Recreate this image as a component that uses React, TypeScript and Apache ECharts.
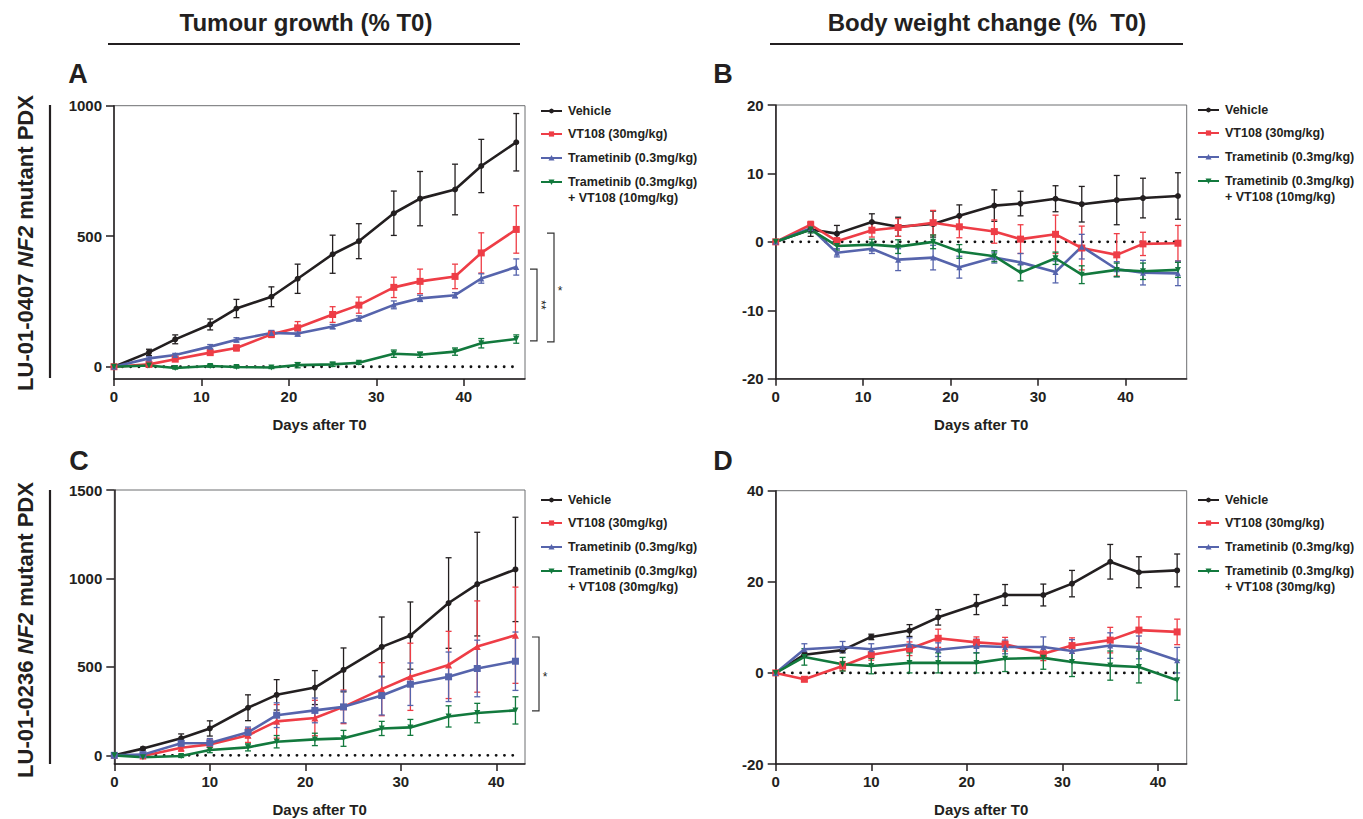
import React, { useEffect, useRef } from "react";
import * as echarts from "echarts";

const FONT = '"Liberation Sans", Arial, Helvetica, sans-serif';
const INK = "#231f20";
const C_VEH = "#231f20";
const C_VT = "#ee3d46";
const C_TRA = "#5664ac";
const C_CMB = "#12793d";

const NAME_VEH = "Vehicle";
const NAME_VT = "VT108 (30mg/kg)";
const NAME_TRA = "Trametinib (0.3mg/kg)";
const NAME_CMB10 = ["Trametinib (0.3mg/kg)", "+ VT108 (10mg/kg)"];
const NAME_CMB30 = ["Trametinib (0.3mg/kg)", "+ VT108 (30mg/kg)"];

// Days
const daysAB = [0, 4, 7, 11, 14, 18, 21, 25, 28, 32, 35, 39, 42, 46];
const daysCD = [0, 3, 7, 10, 14, 17, 21, 24, 28, 31, 35, 38, 42];
const xTicksAB = [0, 10, 20, 30, 40];
const xTicksCD = [0, 10, 20, 30, 40];

// Panel A: tumour growth LU-01-0407
const aVeh = [0, 55, 105, 162, 223, 268, 337, 431, 481, 588, 644, 679, 769, 860];
const aVehErr = [0, 12, 17, 21, 35, 38, 56, 73, 67, 85, 104, 97, 102, 110];
const aVt = [0, 9, 29, 54, 72, 124, 149, 200, 236, 304, 327, 346, 436, 526];
const aVtErr = [0, 5, 6, 9, 11, 12, 24, 30, 31, 39, 47, 47, 77, 91];
const aTra = [0, 32, 45, 77, 103, 129, 127, 154, 185, 237, 262, 274, 338, 382];
const aTraErr = [0, 6, 6, 8, 8, 10, 10, 8, 10, 15, 12, 10, 18, 31];
const aCmb = [0, 5, -5, 3, -1, -3, 6, 9, 15, 50, 46, 58, 90, 106];
const aCmbErr = [0, 4, 4, 5, 4, 4, 10, 8, 6, 14, 10, 14, 18, 16];
const aYTicks = [0, 500, 1000];

// Panel B: body weight LU-01-0407
const bVeh = [0, 1.8, 1.2, 2.9, 2.2, 2.6, 3.8, 5.3, 5.6, 6.3, 5.5, 6.1, 6.4, 6.7];
const bVehErr = [0, 1.0, 1.2, 1.2, 1.4, 1.9, 1.6, 2.3, 1.8, 1.9, 2.6, 3.6, 2.9, 3.4];
const bVt = [0, 2.5, 0.1, 1.7, 2.1, 2.8, 2.2, 1.5, 0.4, 1.1, -0.9, -1.9, -0.3, -0.2];
const bVtErr = [0, 0.5, 0.5, 1.0, 1.3, 1.8, 1.6, 1.7, 2.1, 2.8, 3.2, 3.1, 1.7, 2.6];
const bTra = [0, 2.0, -1.6, -1.0, -2.6, -2.3, -3.7, -2.3, -3.0, -4.4, -0.7, -4.0, -4.5, -4.6];
const bTraErr = [0, 0.5, 0.6, 0.7, 1.6, 1.8, 1.6, 0.8, 1.3, 1.6, 1.8, 1.1, 1.8, 1.8];
const bCmb = [0, 1.8, -0.6, -0.4, -0.7, 0, -1.4, -2.1, -4.5, -2.4, -4.8, -4.1, -4.3, -4.1];
const bCmbErr = [0, 0.5, 0.6, 0.8, 1.0, 1.0, 1.0, 0.8, 1.2, 0.9, 1.3, 1.0, 1.2, 1.1];
const bYTicks = [-20, -10, 0, 10, 20];

// Panel C: tumour growth LU-01-0236
const cVeh = [0, 38, 96, 152, 269, 342, 383, 483, 613, 677, 861, 968, 1051];
const cVehErr = [0, 8, 25, 43, 73, 86, 96, 124, 169, 190, 256, 293, 295];
const cVt = [0, -4, 43, 62, 113, 192, 211, 274, 374, 444, 511, 615, 679];
const cVtErr = [0, 5, 20, 30, 40, 95, 100, 95, 150, 190, 190, 258, 272];
const cTra = [0, 4, 68, 70, 130, 227, 254, 274, 338, 402, 444, 491, 532];
const cTraErr = [0, 5, 15, 25, 30, 70, 70, 90, 110, 120, 140, 160, 165];
const cCmb = [0, -11, -4, 30, 45, 77, 90, 96, 152, 158, 220, 239, 254];
const cCmbErr = [0, 5, 8, 15, 20, 35, 35, 45, 40, 45, 60, 55, 77];
const cYTicks = [0, 500, 1000, 1500];

// Panel D: body weight LU-01-0236
const dVeh = [0, 4.0, 5.0, 7.9, 9.3, 12.2, 15.0, 17.1, 17.1, 19.6, 24.4, 22.1, 22.5];
const dVehErr = [0, 0.5, 0.6, 0.6, 1.3, 1.7, 2.2, 2.3, 2.4, 2.9, 3.8, 3.4, 3.6];
const dVt = [0, -1.4, 1.5, 4.0, 5.3, 7.6, 6.7, 6.3, 4.2, 6.0, 7.2, 9.4, 9.0];
const dVtErr = [0, 0.5, 1.0, 1.2, 1.5, 2.0, 1.2, 1.5, 1.5, 1.7, 2.8, 2.9, 2.8];
const dTra = [0, 5.2, 5.7, 5.2, 6.2, 5.1, 5.9, 5.7, 5.7, 4.8, 6.0, 5.6, 2.8];
const dTraErr = [0, 1.2, 1.2, 1.2, 1.5, 1.5, 1.5, 1.5, 2.2, 2.5, 2.8, 2.5, 2.8];
const dCmb = [0, 3.5, 1.9, 1.5, 2.2, 2.2, 2.2, 3.1, 3.3, 2.4, 1.6, 1.3, -1.6];
const dCmbErr = [0, 1.8, 1.5, 1.7, 2.2, 2.2, 2.2, 2.8, 2.5, 3.2, 3.2, 3.5, 4.4];
const dYTicks = [-20, 0, 20, 40];

// Significance brackets (value span on y axis, label)
const sigA = [
  { top: 374, bottom: 99, label: "**", offset: 5 },
  { top: 512, bottom: 95, label: "*", offset: 22 },
];
const sigC = [{ top: 669, bottom: 251, label: "*", offset: 7 }];

// zero reference line extents
const zeroAB = [0, 46];
const zeroCD = [0, 42];

function errData(days: number[], v: number[], e: number[]) {
  const out: number[][] = [];
  days.forEach((d, i) => {
    if (e[i] > 0) out.push([d, v[i] - e[i], v[i] + e[i]]);
  });
  return out;
}

function errRender(color: string) {
  return (params: any, api: any) => {
    const x = api.value(0);
    const lo = api.value(1);
    const hi = api.value(2);
    const a = api.coord([x, hi]);
    const b = api.coord([x, lo]);
    const w = 3;
    const st = { stroke: color, lineWidth: 1.3 };
    return {
      type: "group",
      children: [
        { type: "line", shape: { x1: a[0], y1: a[1], x2: b[0], y2: b[1] }, style: st },
        { type: "line", shape: { x1: a[0] - w, y1: a[1], x2: a[0] + w, y2: a[1] }, style: st },
        { type: "line", shape: { x1: b[0] - w, y1: b[1], x2: b[0] + w, y2: b[1] }, style: st },
      ],
    };
  };
}

function bracketRender(xEnd: number) {
  return (params: any, api: any) => {
    const cs = params.coordSys;
    const right = cs.x + cs.width;
    const off = api.value(2);
    const pTop = api.coord([xEnd, api.value(0)]);
    const pBot = api.coord([xEnd, api.value(1)]);
    const x1 = right + off;
    const x2 = x1 + 7;
    const n = api.value(3);
    const mid = (pTop[1] + pBot[1]) / 2;
    return {
      type: "group",
      children: [
        {
          type: "polyline",
          shape: { points: [[x1, pTop[1]], [x2, pTop[1]], [x2, pBot[1]], [x1, pBot[1]]] },
          style: { stroke: "#333", lineWidth: 1.2, fill: "none" },
        },
        {
          type: "text",
          x: n === 2 ? x2 + 4 : x2 + 6,
          y: n === 2 ? mid : mid + 3,
          rotation: n === 2 ? -Math.PI / 2 : 0,
          style: { text: n === 2 ? "**" : "*", fontSize: 12, fontFamily: FONT, fill: "#222", align: "center", verticalAlign: "middle" },
        },
      ],
    };
  };
}

function lineSeries(name: string, gi: number, days: number[], v: number[], color: string, symbol: string, size: number, rotate = 0) {
  return {
    type: "line",
    name,
    xAxisIndex: gi,
    yAxisIndex: gi,
    data: days.map((d, i) => [d, v[i]]),
    symbol,
    symbolSize: size,
    symbolRotate: rotate,
    showSymbol: true,
    color,
    itemStyle: { color },
    lineStyle: { color, width: 2.6 },
    emphasis: { disabled: true },
    z: 4,
  };
}

function errSeries(gi: number, days: number[], v: number[], e: number[], color: string) {
  return {
    type: "custom",
    name: "err",
    xAxisIndex: gi,
    yAxisIndex: gi,
    data: errData(days, v, e),
    renderItem: errRender(color),
    encode: { x: 0, y: [1, 2] },
    silent: true,
    z: 3,
    clip: false,
  };
}

function zeroSeries(gi: number, ext: number[]) {
  return {
    type: "line",
    name: "zero",
    xAxisIndex: gi,
    yAxisIndex: gi,
    data: ext.map((d) => [d, 0]),
    showSymbol: false,
    symbol: "none",
    lineStyle: { color: "#111", width: 2.8, type: [0.1, 8.2], cap: "round" },
    silent: true,
    z: 2,
  };
}

function sigSeries(gi: number, xEnd: number, sig: { top: number; bottom: number; label: string; offset: number }[]) {
  return {
    type: "custom",
    name: "sig",
    xAxisIndex: gi,
    yAxisIndex: gi,
    data: sig.map((s) => [s.top, s.bottom, s.offset, s.label.length]),
    renderItem: bracketRender(xEnd),
    encode: { y: [0, 1] },
    silent: true,
    clip: false,
    z: 5,
  };
}

const tickLabel = { fontSize: 15, fontWeight: "bold", color: INK, fontFamily: FONT };
const axisLineStyle = { color: INK, width: 1.5 };

function xAxis(gi: number, max: number, ticks: number[]) {
  return {
    type: "value",
    gridIndex: gi,
    min: 0,
    max,
    axisLine: { show: true, onZero: false, lineStyle: axisLineStyle },
    axisTick: { show: true, length: 7, customValues: ticks, lineStyle: axisLineStyle },
    axisLabel: { ...tickLabel, customValues: ticks, margin: 10, formatter: (v: number) => String(v) },
    splitLine: { show: false },
    name: "Days after T0",
    nameLocation: "middle",
    nameGap: 38,
    nameTextStyle: { fontSize: 15, fontWeight: "bold", color: INK, fontFamily: FONT },
  };
}

function yAxis(gi: number, min: number, max: number, ticks: number[]) {
  return {
    type: "value",
    gridIndex: gi,
    min,
    max,
    axisLine: { show: true, onZero: false, lineStyle: axisLineStyle },
    axisTick: { show: true, length: 8, customValues: ticks, lineStyle: axisLineStyle },
    axisLabel: { ...tickLabel, customValues: ticks, margin: 12, formatter: (v: number) => String(v) },
    splitLine: { show: false },
  };
}

// manual legend built from series names/colours
function legendGraphic(left: number, top: number, items: { name: string | string[]; color: string; symbol: string }[]) {
  const rowOffsets = [0, 23, 47, 71];
  const out: any[] = [];
  items.forEach((it, i) => {
    const y = top + rowOffsets[i];
    out.push({ type: "line", shape: { x1: left, y1: y, x2: left + 21, y2: y }, style: { stroke: it.color, lineWidth: 2 } });
    const cx = left + 10.5;
    if (it.symbol === "circle") {
      out.push({ type: "circle", shape: { cx, cy: y, r: 2.4 }, style: { fill: it.color } });
    } else if (it.symbol === "rect") {
      out.push({ type: "rect", shape: { x: cx - 2.6, y: y - 2.6, width: 5.2, height: 5.2 }, style: { fill: it.color } });
    } else if (it.symbol === "triangle") {
      out.push({ type: "polygon", shape: { points: [[cx, y - 3], [cx + 3, y + 2.4], [cx - 3, y + 2.4]] }, style: { fill: it.color } });
    } else {
      out.push({ type: "polygon", shape: { points: [[cx, y + 3], [cx + 3, y - 2.4], [cx - 3, y - 2.4]] }, style: { fill: it.color } });
    }
    const lines = Array.isArray(it.name) ? it.name : [it.name];
    lines.forEach((ln, k) => {
      out.push({
        type: "text",
        x: left + 27,
        y: y + k * 15.5,
        style: { text: ln, fontSize: 12.5, fontWeight: "bold", fontFamily: FONT, fill: INK, align: "left", verticalAlign: "middle" },
      });
    });
  });
  return out;
}

function panelSeries(gi: number, days: number[], sets: any[], zero: number[]) {
  const out: any[] = [zeroSeries(gi, zero)];
  sets.forEach((s) => {
    out.push(errSeries(gi, days, s.v, s.e, s.color));
  });
  sets.forEach((s) => {
    out.push(lineSeries(Array.isArray(s.name) ? s.name.join(" ") : s.name, gi, days, s.v, s.color, s.symbol, s.size, s.rotate || 0));
  });
  return out;
}

export default function App() {
  const ref = useRef<HTMLDivElement>(null);
  useEffect(() => {
    if (!ref.current) return;
    const chart = echarts.init(ref.current, undefined, { renderer: "svg" });

    const grids = [
      { left: 114, top: 105.7, width: 411, height: 273.3 },
      { left: 775.7, top: 105, width: 411, height: 273.7 },
      { left: 114.3, top: 490, width: 410.7, height: 274 },
      { left: 775.7, top: 490.7, width: 411, height: 273.3 },
    ].map((g) => ({ ...g, show: true, borderColor: "#6d6e71", borderWidth: 1, backgroundColor: "transparent", containLabel: false }));

    const setsA = [
      { name: NAME_VEH, v: aVeh, e: aVehErr, color: C_VEH, symbol: "circle", size: 6 },
      { name: NAME_VT, v: aVt, e: aVtErr, color: C_VT, symbol: "rect", size: 7 },
      { name: NAME_TRA, v: aTra, e: aTraErr, color: C_TRA, symbol: "triangle", size: 6 },
      { name: NAME_CMB10, v: aCmb, e: aCmbErr, color: C_CMB, symbol: "triangle", size: 6, rotate: 180 },
    ];
    const setsB = [
      { name: NAME_VEH, v: bVeh, e: bVehErr, color: C_VEH, symbol: "circle", size: 6 },
      { name: NAME_VT, v: bVt, e: bVtErr, color: C_VT, symbol: "rect", size: 7 },
      { name: NAME_TRA, v: bTra, e: bTraErr, color: C_TRA, symbol: "triangle", size: 6 },
      { name: NAME_CMB10, v: bCmb, e: bCmbErr, color: C_CMB, symbol: "triangle", size: 6, rotate: 180 },
    ];
    const setsC = [
      { name: NAME_VEH, v: cVeh, e: cVehErr, color: C_VEH, symbol: "circle", size: 6 },
      { name: NAME_VT, v: cVt, e: cVtErr, color: C_VT, symbol: "triangle", size: 7 },
      { name: NAME_TRA, v: cTra, e: cTraErr, color: C_TRA, symbol: "rect", size: 7 },
      { name: NAME_CMB30, v: cCmb, e: cCmbErr, color: C_CMB, symbol: "triangle", size: 6, rotate: 180 },
    ];
    const setsD = [
      { name: NAME_VEH, v: dVeh, e: dVehErr, color: C_VEH, symbol: "circle", size: 6 },
      { name: NAME_VT, v: dVt, e: dVtErr, color: C_VT, symbol: "rect", size: 7 },
      { name: NAME_TRA, v: dTra, e: dTraErr, color: C_TRA, symbol: "triangle", size: 6 },
      { name: NAME_CMB30, v: dCmb, e: dCmbErr, color: C_CMB, symbol: "triangle", size: 6, rotate: 180 },
    ];

    const series = [
      ...panelSeries(0, daysAB, setsA, zeroAB),
      ...panelSeries(1, daysAB, setsB, zeroAB),
      ...panelSeries(2, daysCD, setsC, zeroCD),
      ...panelSeries(3, daysCD, setsD, zeroCD),
      sigSeries(0, 46, sigA),
      sigSeries(2, 42, sigC),
    ];

    const legendItems = (sets: any[]) =>
      sets.map((s) => ({ name: s.name, color: s.color, symbol: s.rotate ? "down" : s.symbol }));

    const bold = (size: number) => ({ fontSize: size, fontWeight: "bold", fontFamily: FONT, fill: INK });
    const rotLabel = (id: string) => ({
      text: `{n|LU-01-${id} }{i|NF2}{n| mutant PDX}`,
      rich: {
        n: { fontSize: 22, fontWeight: "bold", fontFamily: FONT, fill: INK },
        i: { fontSize: 22, fontWeight: "bold", fontStyle: "italic", fontFamily: FONT, fill: INK },
      },
      align: "center",
      verticalAlign: "middle",
    });

    const graphic = [
      { type: "text", x: 306, y: 22, style: { ...bold(24), text: "Tumour growth (% T0)", align: "center", verticalAlign: "middle" } },
      { type: "line", shape: { x1: 108, y1: 44, x2: 520, y2: 44 }, style: { stroke: INK, lineWidth: 2.2 } },
      { type: "text", x: 987, y: 22, style: { ...bold(24), text: "Body weight change (%  T0)", align: "center", verticalAlign: "middle" } },
      { type: "line", shape: { x1: 770, y1: 44, x2: 1183, y2: 44 }, style: { stroke: INK, lineWidth: 2.2 } },
      { type: "text", x: 78, y: 74, style: { ...bold(27), text: "A", align: "center", verticalAlign: "middle" } },
      { type: "text", x: 723, y: 74, style: { ...bold(27), text: "B", align: "center", verticalAlign: "middle" } },
      { type: "text", x: 79, y: 461, style: { ...bold(27), text: "C", align: "center", verticalAlign: "middle" } },
      { type: "text", x: 723, y: 461, style: { ...bold(27), text: "D", align: "center", verticalAlign: "middle" } },
      { type: "text", x: 25, y: 243, rotation: Math.PI / 2, style: rotLabel("0407") },
      { type: "text", x: 25, y: 630, rotation: Math.PI / 2, style: rotLabel("0236") },
      { type: "line", shape: { x1: 50, y1: 105, x2: 50, y2: 378 }, style: { stroke: INK, lineWidth: 2.2 } },
      { type: "line", shape: { x1: 50, y1: 490, x2: 50, y2: 764 }, style: { stroke: INK, lineWidth: 2.2 } },
      ...legendGraphic(541, 111, legendItems(setsA)),
      ...legendGraphic(1198, 110, legendItems(setsB)),
      ...legendGraphic(541, 500, legendItems(setsD)),
      ...legendGraphic(1198, 500, legendItems(setsD)),
    ];

    chart.setOption({
      animation: false,
      textStyle: { fontFamily: FONT },
      grid: grids,
      xAxis: [xAxis(0, 47, xTicksAB), xAxis(1, 47, xTicksAB), xAxis(2, 43, xTicksCD), xAxis(3, 43, xTicksCD)],
      yAxis: [yAxis(0, -47, 1000, aYTicks), yAxis(1, -20, 20, bYTicks), yAxis(2, -49, 1500, cYTicks), yAxis(3, -20, 40, dYTicks)],
      series,
      graphic,
    });
    return () => chart.dispose();
  }, []);
  return <div ref={ref} style={{ position: "fixed", left: 0, top: 0, width: 1363, height: 819, background: "#fff" }} />;
}
